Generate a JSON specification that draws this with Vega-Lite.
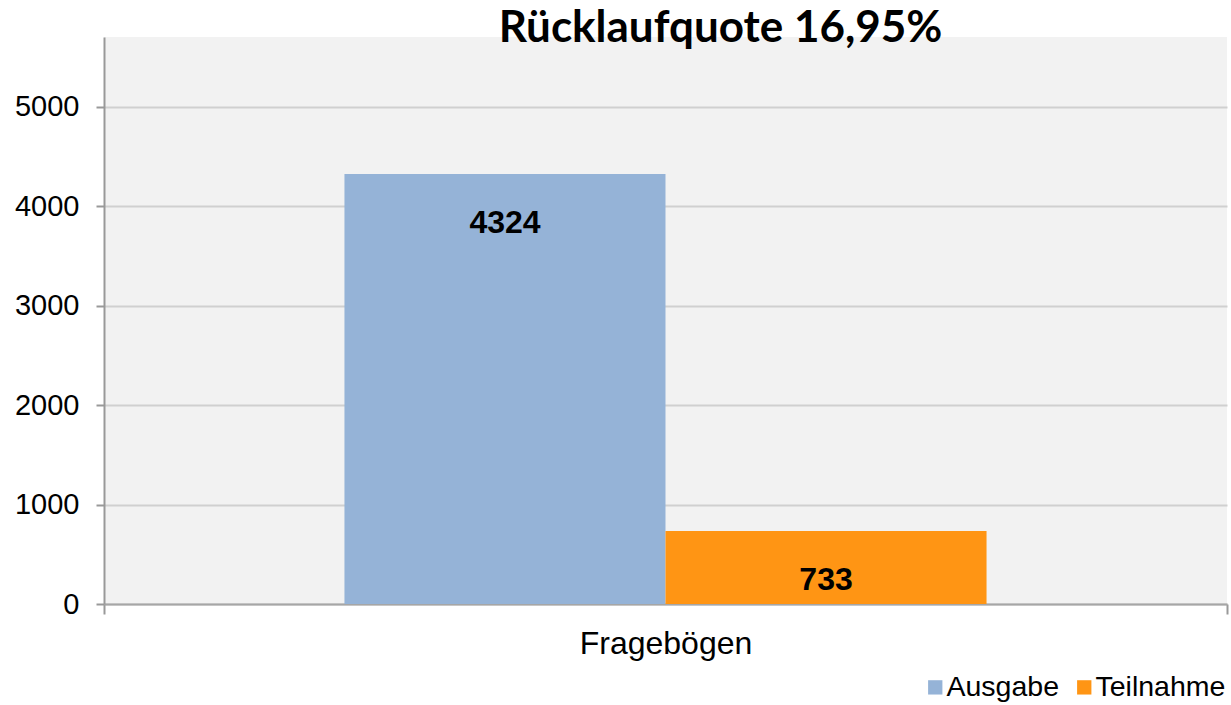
{
  "$schema": "https://vega.github.io/schema/vega-lite/v6.json",
  "width": 1123,
  "height": 567,
  "autosize": {"type": "none"},
  "padding": {"left": 104, "top": 37, "right": 4, "bottom": 101},
  "background": "white",
  "config": {
    "view": {"fill": "#f2f2f2", "stroke": null},
    "font": "Liberation Sans"
  },
  "title": {
    "text": "Rücklaufquote 16,95%",
    "font": "Lato",
    "fontWeight": "bold",
    "fontSize": 44,
    "color": "black",
    "anchor": "middle",
    "frame": "group",
    "dx": 55,
    "baseline": "alphabetic",
    "offset": -49
  },
  "data": {
    "values": [
      {"cat": "Fragebögen", "series": "Ausgabe", "value": 4324},
      {"cat": "Fragebögen", "series": "Teilnahme", "value": 733}
    ]
  },
  "encoding": {
    "x": {
      "field": "cat",
      "type": "nominal",
      "scale": {"paddingInner": 0, "paddingOuter": 0},
      "axis": {
        "title": null,
        "labelAngle": 0,
        "labelFontSize": 32,
        "labelColor": "black",
        "labelPadding": 14,
        "labelBaseline": "top",
        "tickBand": "extent",
        "tickSize": 10,
        "tickColor": "#999999",
        "tickWidth": 2,
        "domainColor": "#a6a6a6",
        "domainWidth": 2,
        "grid": false
      }
    },
    "xOffset": {
      "field": "series",
      "type": "nominal",
      "scale": {"paddingOuter": 0.749, "paddingInner": 0}
    },
    "y": {
      "field": "value",
      "type": "quantitative",
      "scale": {"domain": [0, 5700], "nice": false},
      "axis": {
        "title": null,
        "values": [0, 1000, 2000, 3000, 4000, 5000],
        "format": "d",
        "labelFontSize": 29,
        "labelColor": "black",
        "labelPadding": 17,
        "tickSize": 8,
        "tickColor": "#999999",
        "tickWidth": 2,
        "domainColor": "#999999",
        "domainWidth": 2,
        "grid": true,
        "gridColor": "#d0d0d0",
        "gridWidth": 2
      }
    }
  },
  "layer": [
    {
      "mark": {"type": "bar"},
      "encoding": {
        "color": {
          "field": "series",
          "type": "nominal",
          "scale": {"domain": ["Ausgabe", "Teilnahme"], "range": ["#95b3d7", "#ff9514"]},
          "legend": {
            "title": null,
            "orient": "none",
            "direction": "horizontal",
            "legendX": 817,
            "legendY": 636,
            "padding": 0,
            "symbolType": "square",
            "symbolSize": 205,
            "symbolStrokeWidth": 0,
            "labelFontSize": 28.5,
            "labelColor": "black",
            "labelOffset": -3,
            "columnPadding": 10
          }
        }
      }
    },
    {
      "mark": {
        "type": "text",
        "baseline": "middle",
        "dy": 49,
        "fontWeight": "bold",
        "fontSize": 32,
        "color": "black"
      },
      "encoding": {
        "text": {"field": "value", "type": "quantitative", "format": "d"}
      }
    }
  ]
}
